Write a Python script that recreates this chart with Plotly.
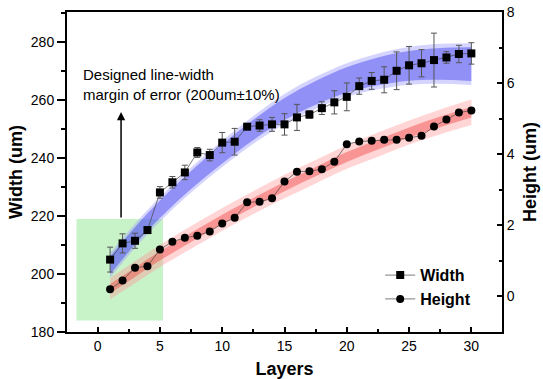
import plotly.graph_objects as go

# ---- data ----
layers = list(range(1, 31))
width = [205.0, 210.6, 211.5, 215.2, 228.2, 231.7, 235.1, 242.0, 241.1, 245.4,
         245.7, 250.9, 251.3, 251.7, 251.7, 254.1, 255.1, 257.3, 259.3, 261.2,
         264.9, 266.7, 267.1, 270.2, 272.1, 272.8, 273.9, 274.8, 276.0, 276.2]
width_err = [4.3, 3.3, 2.6, 0.8, 2.0, 2.0, 2.5, 1.7, 2.0, 3.5,
             4.6, 0.8, 2.0, 2.4, 3.7, 4.5, 1.3, 2.2, 4.0, 4.8,
             2.8, 2.9, 4.5, 6.5, 6.5, 4.7, 9.3, 2.0, 3.0, 3.7]
height = [0.20, 0.45, 0.81, 0.85, 1.32, 1.54, 1.65, 1.71, 1.83, 2.05,
          2.21, 2.65, 2.66, 2.76, 3.23, 3.51, 3.52, 3.58, 3.79, 4.28,
          4.36, 4.38, 4.41, 4.41, 4.46, 4.52, 4.78, 4.98, 5.17, 5.23]

# fitted bands (read at sample layers)
band_x = [1, 3, 5, 7.5, 10, 12.5, 15, 17.5, 20, 22.5, 25, 27.5, 30]
blue_fit = [203.0, 213.2, 222.4, 232.5, 241.5, 249.8, 257.0, 262.6, 267.0, 270.0, 271.9, 272.6, 272.5]
blue_ci = [3.1, 3.0, 3.0, 3.1, 3.3, 3.5, 3.8, 4.1, 4.4, 4.8, 5.1, 5.5, 5.8]
blue_pi = [4.3, 4.2, 4.2, 4.3, 4.5, 4.8, 5.2, 5.5, 5.8, 6.2, 6.5, 6.9, 7.2]
red_fit = [0.22, 0.68, 1.14, 1.66, 2.17, 2.64, 3.09, 3.51, 3.92, 4.27, 4.61, 4.91, 5.18]
red_ci = [0.13, 0.13, 0.13, 0.13, 0.13, 0.13, 0.13, 0.13, 0.14, 0.14, 0.14, 0.15, 0.15]
red_pi = [0.30, 0.31, 0.31, 0.32, 0.32, 0.32, 0.33, 0.33, 0.33, 0.34, 0.34, 0.35, 0.36]

x_ticks = [0, 5, 10, 15, 20, 25, 30]
w_ticks = [180, 200, 220, 240, 260, 280]
h_ticks = [0, 2, 4, 6, 8]

margin_box = dict(x0=-1.7, x1=5.25, y0=184, y1=219)
arrow = dict(x=1.88, y_tail=219, y_head=256)

FONT = "Liberation Sans, Arial, sans-serif"

fig = go.Figure()


def add_band(xs, fit, half, color, yaxis):
    lo = [f - h for f, h in zip(fit, half)]
    hi = [f + h for f, h in zip(fit, half)]
    fig.add_trace(go.Scatter(x=xs, y=lo, mode="lines", line=dict(width=0, shape="spline"),
                             showlegend=False, hoverinfo="skip", yaxis=yaxis))
    fig.add_trace(go.Scatter(x=xs, y=hi, mode="lines", line=dict(width=0, shape="spline"),
                             fill="tonexty", fillcolor=color, showlegend=False,
                             hoverinfo="skip", yaxis=yaxis))


add_band(band_x, blue_fit, blue_pi, "rgba(160,160,255,0.45)", "y")
add_band(band_x, blue_fit, blue_ci, "rgba(50,50,235,0.42)", "y")

fig.add_trace(go.Scatter(
    x=layers, y=width, name="Width", mode="lines+markers",
    marker=dict(symbol="square", size=8, color="black"),
    line=dict(color="#444", width=0.7),
    error_y=dict(type="data", array=width_err, color="#555", thickness=1, width=3),
    yaxis="y"))

add_band(band_x, red_fit, red_pi, "rgba(255,150,150,0.4)", "y2")
add_band(band_x, red_fit, red_ci, "rgba(240,60,60,0.42)", "y2")

fig.add_trace(go.Scatter(
    x=layers, y=height, name="Height", mode="lines+markers",
    marker=dict(symbol="circle", size=8, color="black"),
    line=dict(color="#444", width=0.7),
    yaxis="y2"))

fig.add_shape(type="rect", xref="x", yref="y", layer="below",
              x0=margin_box["x0"], x1=margin_box["x1"],
              y0=margin_box["y0"], y1=margin_box["y1"],
              fillcolor="#c8f2c8", line=dict(width=0))

fig.add_annotation(x=arrow["x"], y=arrow["y_head"], ax=arrow["x"], ay=arrow["y_tail"],
                   xref="x", yref="y", axref="x", ayref="y", text="",
                   showarrow=True, arrowhead=2, arrowsize=1.1, arrowwidth=1.5,
                   arrowcolor="black")

fig.add_annotation(x=-1.35, y=265.6, xref="x", yref="y", xanchor="left", yanchor="middle",
                   align="left", showarrow=False,
                   text="Designed line-width<br>margin of error (200um±10%)",
                   font=dict(family=FONT, size=15, color="black"))

tickfont = dict(family=FONT, size=14, color="black")
titlefont = dict(family=FONT, size=18, color="black", weight="bold")

fig.update_layout(
    width=543, height=379,
    margin=dict(l=67, r=41, t=12, b=47),
    paper_bgcolor="white", plot_bgcolor="white",
    showlegend=True,
    legend=dict(x=0.72, y=0.14, xanchor="left", yanchor="middle",
                traceorder="normal", bgcolor="rgba(0,0,0,0)",
                font=dict(family=FONT, size=16, color="black", weight="bold")),
    xaxis=dict(range=[-2.46, 32.46], tickvals=x_ticks, ticks="inside", ticklen=5,
               tickwidth=2, tickcolor="black", showline=True, linewidth=2,
               linecolor="black", mirror=True, showgrid=False, zeroline=False,
               tickfont=tickfont, automargin=False,
               minor=dict(ticks="inside", ticklen=3, tickwidth=1.5, tickcolor="black",
                          dtick=2.5, tick0=0, showgrid=False),
               title=dict(text="Layers", font=titlefont, standoff=10)),
    yaxis=dict(range=[180, 290.5], tickvals=w_ticks, ticks="outside", ticklen=8,
               tickwidth=2, tickcolor="black", showline=True, linewidth=2,
               linecolor="black", showgrid=False, zeroline=False, tickfont=tickfont,
               automargin=False,
               minor=dict(ticks="outside", ticklen=4, tickwidth=1.5, tickcolor="black",
                          dtick=10, tick0=180, showgrid=False),
               title=dict(text="Width (um)", font=titlefont, standoff=4)),
    yaxis2=dict(range=[-1, 8], tickvals=h_ticks, overlaying="y", side="right",
                ticks="inside", ticklen=5, tickwidth=2, tickcolor="black",
                showline=True, linewidth=2, linecolor="black", showgrid=False,
                zeroline=False, tickfont=tickfont, automargin=False,
                minor=dict(ticks="inside", ticklen=3, tickwidth=1.5, tickcolor="black",
                           dtick=1, tick0=0, showgrid=False),
                title=dict(text="Height (um)", font=titlefont, standoff=10)),
)

fig.write_html("out.html", config={"displayModeBar": False},
               post_script="document.body.style.margin='0';")
